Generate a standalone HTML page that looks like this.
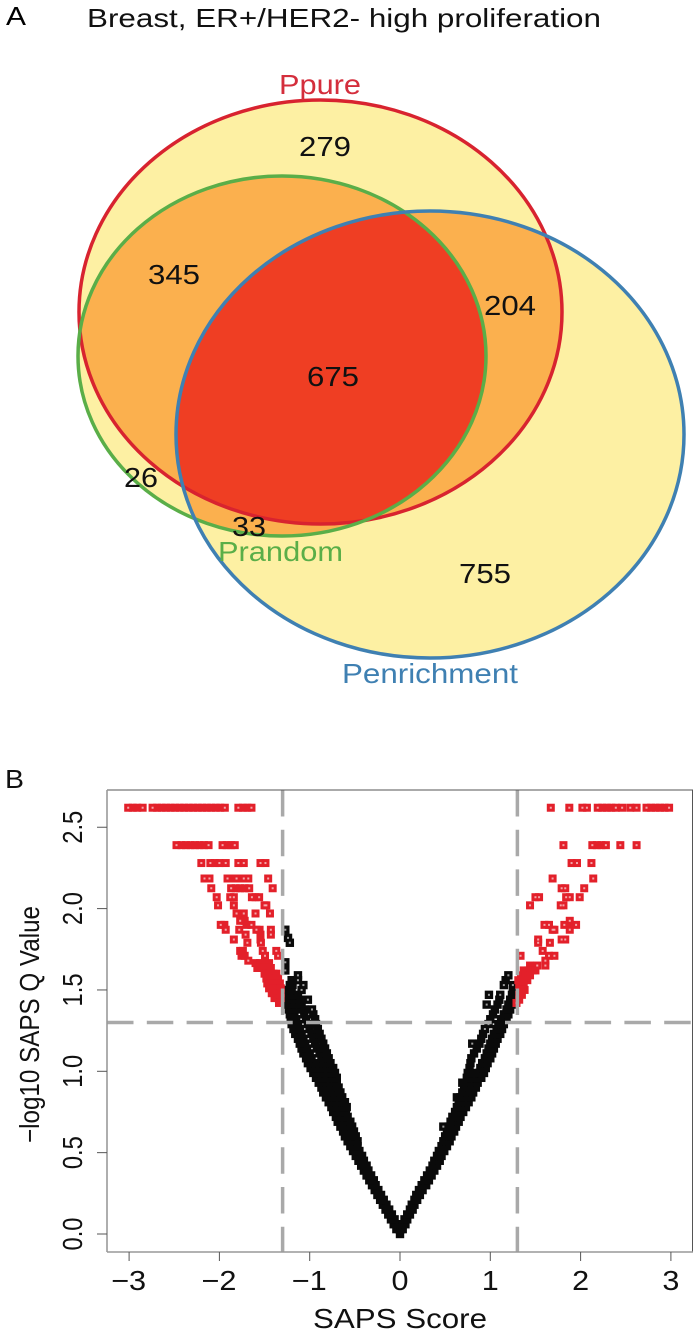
<!DOCTYPE html>
<html lang="en">
<head>
<meta charset="utf-8">
<title>Breast, ER+/HER2- high proliferation</title>
<style>
html,body{margin:0;padding:0;background:#fff;}
svg{display:block;}
text{font-family:"Liberation Sans",sans-serif;}
</style>
</head>
<body>
<svg id="figure" width="699" height="1335" viewBox="0 0 699 1335" xmlns="http://www.w3.org/2000/svg">
  <defs>
    <clipPath id="clip-pure"><ellipse cx="320.5" cy="312" rx="241.5" ry="212"/></clipPath>
    <clipPath id="clip-random"><ellipse cx="282" cy="356" rx="204" ry="180"/></clipPath>
    <clipPath id="clip-enrich"><ellipse cx="430" cy="434.5" rx="254" ry="223.5"/></clipPath>
  </defs>
  <rect width="699" height="1335" fill="#fff"/>

  <text x="6" y="25" font-size="25.5" textLength="20" lengthAdjust="spacingAndGlyphs">A</text>
  <text x="87" y="27" font-size="26" fill="#111" textLength="514" lengthAdjust="spacingAndGlyphs">Breast, ER+/HER2- high proliferation</text>

  <g>
    <ellipse cx="320.5" cy="312" rx="241.5" ry="212" fill="#fdf0a3"/>
    <ellipse cx="282" cy="356" rx="204" ry="180" fill="#fdf0a3"/>
    <ellipse cx="430" cy="434.5" rx="254" ry="223.5" fill="#fdf0a3"/>
    <g clip-path="url(#clip-pure)"><ellipse cx="282" cy="356" rx="204" ry="180" fill="#fbb04e"/></g>
    <g clip-path="url(#clip-pure)"><ellipse cx="430" cy="434.5" rx="254" ry="223.5" fill="#fbb04e"/></g>
    <g clip-path="url(#clip-random)"><ellipse cx="430" cy="434.5" rx="254" ry="223.5" fill="#fbb04e"/></g>
    <g clip-path="url(#clip-pure)"><g clip-path="url(#clip-random)"><ellipse cx="430" cy="434.5" rx="254" ry="223.5" fill="#ef3e23"/></g></g>
    <ellipse cx="320.5" cy="312" rx="241.5" ry="212" fill="none" stroke="#d8232f" stroke-width="3.5"/>
    <ellipse cx="282" cy="356" rx="204" ry="180" fill="none" stroke="#5aae48" stroke-width="3.5"/>
    <ellipse cx="430" cy="434.5" rx="254" ry="223.5" fill="none" stroke="#3f80b2" stroke-width="3.5"/>

    <text x="279" y="94" font-size="27.5" fill="#d42e3c" textLength="82" lengthAdjust="spacingAndGlyphs">Ppure</text>
    <text x="218" y="561" font-size="27.5" fill="#5aae48" textLength="125" lengthAdjust="spacingAndGlyphs">Prandom</text>
    <text x="342" y="683" font-size="27.5" fill="#3f80b2" textLength="176" lengthAdjust="spacingAndGlyphs">Penrichment</text>

    <text x="299" y="156" font-size="28" fill="#111" textLength="52" lengthAdjust="spacingAndGlyphs">279</text>
    <text x="148" y="284" font-size="28" fill="#111" textLength="52" lengthAdjust="spacingAndGlyphs">345</text>
    <text x="484" y="315" font-size="28" fill="#111" textLength="52" lengthAdjust="spacingAndGlyphs">204</text>
    <text x="307" y="386" font-size="28" fill="#111" textLength="52" lengthAdjust="spacingAndGlyphs">675</text>
    <text x="124" y="487" font-size="28" fill="#111" textLength="34" lengthAdjust="spacingAndGlyphs">26</text>
    <text x="232" y="536" font-size="28" fill="#111" textLength="34" lengthAdjust="spacingAndGlyphs">33</text>
    <text x="459" y="583" font-size="28" fill="#111" textLength="52" lengthAdjust="spacingAndGlyphs">755</text>
  </g>

  <text x="5" y="788" font-size="25.5" fill="#111" textLength="19" lengthAdjust="spacingAndGlyphs">B</text>

  <g id="volcano">
    <g id="black-points"></g>
    <g id="red-points"></g>
    <g id="cut-lines"></g>
    <g id="frame">
      <line x1="107" y1="790" x2="693" y2="790" stroke="#555" stroke-width="1"/>
      <line x1="692.5" y1="790" x2="692.5" y2="1252" stroke="#555" stroke-width="1"/>
      <line x1="107" y1="790" x2="107" y2="1252" stroke="#999" stroke-width="1.6"/>
      <line x1="107" y1="1252" x2="693" y2="1252" stroke="#999" stroke-width="1.6"/>
    </g>
    <g id="axes"></g>
    <text x="313" y="1328" font-size="27.5" fill="#111" textLength="174" lengthAdjust="spacingAndGlyphs">SAPS Score</text>
    <text transform="translate(39,1143) rotate(-90)" x="0" y="0" font-size="27.5" fill="#111" textLength="237" lengthAdjust="spacingAndGlyphs">&#8722;log10 SAPS Q Value</text>
  </g>
</svg>
<script>
var xTickValues = [-3, -2, -1, 0, 1, 2, 3];
var xTickLabels = ["\u22123", "\u22122", "\u22121", "0", "1", "2", "3"];
var yTickValues = [0, 0.5, 1, 1.5, 2, 2.5];
var yTickLabels = ["0.0", "0.5", "1.0", "1.5", "2.0", "2.5"];
var scoreCutoffs = [-1.3, 1.3];
var qCutoff = 1.3;

var blackRowY = [0,0.03,0.06,0.09,0.12,0.15,0.18,0.21,0.24,0.27,0.30,0.33,0.36,0.39,0.42,0.45,0.48,0.51,0.54,0.57,0.60,0.63,0.66,0.69,0.72,0.75,0.78,0.81,0.84,0.87,0.90,0.93,0.96,0.99,1.02,1.05,1.08,1.11,1.14,1.17,1.20,1.23,1.26,1.29,1.32,1.35,1.38,1.41,1.44,1.47,1.50,1.53,1.56,1.59,1.62,1.67,1.79,1.82,1.87];
var blackRowX = [
[0],
[-0.04,-0.01,0.01,0.03],
[-0.07,-0.03,0.03,0.06],
[-0.10,-0.06,0.05,0.08],
[-0.13,-0.09,0.08,0.11],
[-0.16,-0.12,0.11,0.14],
[-0.19,-0.15,0.13,0.16],
[-0.22,-0.18,0.16,0.19],
[-0.25,-0.21,0.18,0.22],
[-0.28,-0.24,0.21,0.25],
[-0.31,-0.27,0.24,0.29],
[-0.34,-0.29,0.27,0.32],
[-0.37,-0.32,0.30,0.35],
[-0.40,-0.35,0.33,0.38],
[-0.43,-0.37,0.36,0.41],
[-0.46,-0.40,0.38,0.44],
[-0.49,-0.42,0.41,0.46],
[-0.52,-0.45,0.43,0.49],
[-0.55,-0.50,-0.47,0.46,0.52],
[-0.58,-0.52,-0.47,0.48,0.55],
[-0.61,-0.55,-0.49,0.50,0.57],
[-0.63,-0.57,-0.51,0.52,0.60],
[-0.66,-0.60,-0.53,0.48,0.54,0.62],
[-0.69,-0.62,-0.55,0.56,0.65],
[-0.71,-0.65,-0.58,0.58,0.67],
[-0.74,-0.67,-0.60,0.61,0.70],
[-0.76,-0.70,-0.63,-0.59,0.63,0.68,0.73],
[-0.79,-0.73,-0.67,-0.61,0.65,0.71,0.76],
[-0.82,-0.76,-0.70,-0.64,0.63,0.67,0.73,0.79],
[-0.85,-0.79,-0.72,-0.66,0.69,0.75,0.81],
[-0.87,-0.81,-0.75,-0.68,0.71,0.77,0.84],
[-0.90,-0.84,-0.77,-0.70,0.69,0.73,0.79,0.86],
[-0.93,-0.87,-0.82,-0.74,-0.70,0.74,0.80,0.85,0.90],
[-0.96,-0.90,-0.82,-0.76,-0.72,0.75,0.82,0.88,0.93],
[-0.99,-0.93,-0.89,-0.81,-0.74,0.77,0.89,0.95],
[-1.02,-0.96,-0.92,-0.84,-0.77,0.78,0.91,0.97],
[-1.04,-0.98,-0.87,-0.79,0.79,0.94,1.00],
[-1.07,-1.00,-0.89,-0.81,0.82,0.96,1.02],
[-1.09,-1.03,-0.92,-0.83,0.85,0.98,1.04],
[-1.11,-1.05,-0.94,-0.85,0.80,0.88,1.00,1.06],
[-1.13,-1.07,-0.96,-0.87,0.90,1.02,1.08],
[-1.16,-1.09,-0.98,-0.89,0.92,1.04,1.11],
[-1.18,-1.11,-1.00,-0.91,0.94,1.07,1.13],
[-1.20,-1.13,-1.02,-0.93,0.98,1.09,1.15],
[-1.21,-1.15,-1.04,-0.94,1.00,1.12,1.18],
[-1.22,-1.17,-1.06,-0.96,1.03,1.15,1.20],
[-1.23,-1.19,-1.11,-1.06,-0.975,1.05,1.18,1.22],
[-1.24,-1.20,-1.15,-1.09,0.96,1.08,1.20,1.24],
[-1.24,-1.17,-1.11,-1.02,1.10,1.22],
[-1.24,-1.19,-1.13,0.985,1.11,1.24],
[-1.24,-1.20,-1.09,1.25],
[-1.22,-1.19,-1.07,1.15,1.25],
[-1.20,-1.13,1.17],
[-1.13,1.20],
[-1.27],
[-1.27],
[-1.22],
[-1.24],
[-1.27]
];

var redRowY = [2.62,2.39,2.28,2.185,2.125,2.07,2.02,1.97,1.925,1.90,1.87,1.84,1.81,1.79,1.74,1.71,1.68,1.665,1.65,1.635,1.62,1.60,1.59,1.57,1.56,1.54,1.53,1.51,1.50,1.48,1.47,1.45,1.44,1.42];
var redRowX = [
[-3.01,-2.96,-2.91,-2.85,-2.74,-2.69,-2.64,-2.59,-2.54,-2.49,-2.44,-2.39,-2.34,-2.29,-2.24,-2.19,-2.14,-2.09,-2.04,-1.99,-1.94,-1.79,-1.74,-1.69,-1.645,1.67,1.875,2.02,2.07,2.19,2.24,2.29,2.34,2.39,2.46,2.55,2.62,2.73,2.78,2.83,2.88,2.93,2.98],
[-2.475,-2.42,-2.37,-2.32,-2.27,-2.22,-2.17,-2.12,-1.965,-1.92,-1.87,-1.83,1.81,2.13,2.18,2.23,2.28,2.44,2.62],
[-2.20,-2.10,-2.05,-2.00,-1.93,-1.79,-1.73,-1.545,-1.49,1.90,1.96,2.12],
[-2.165,-2.11,-1.91,-1.86,-1.81,-1.73,-1.68,-1.46,1.69,2.14],
[-2.09,-1.87,-1.82,-1.77,-1.72,-1.67,-1.41,1.79,1.83,2.04],
[-2.03,-1.88,-1.84,-1.64,-1.60,-1.56,1.50,1.54,1.84,1.88,1.99],
[-2.015,-1.84,-1.50,-1.48,1.44,1.78,1.81],
[-1.81,-1.77,-1.73,-1.60,-1.44],
[-1.77,-1.72,1.88],
[-1.985,-1.945,-1.70,-1.645,1.60,1.65,1.82,1.88,1.95],
[-1.93,-1.78,-1.59,-1.555,-1.43,1.69,1.71,1.88],
[-1.71,-1.545,-1.43],
[-1.84,-1.545,1.53,1.79,1.83],
[-1.69,-1.54,1.53,1.66],
[-1.77,-1.74,-1.52,-1.37,1.58],
[-1.755,-1.72,-1.495,-1.35,1.335,1.65,1.71],
[-1.68,1.61],
[-1.60,-1.55,-1.50,-1.45],
[1.44,1.52,1.61],
[-1.58,-1.53,-1.48,-1.43],
[1.37,1.42,1.47,1.50],
[-1.50,-1.45,-1.40,-1.37],
[1.34,1.39,1.44],
[-1.48,-1.43,-1.38,-1.35],
[1.31,1.36,1.41],
[-1.47,-1.42,-1.37,-1.33],
[1.32,1.37],
[-1.45,-1.40,-1.35,-1.32],
[1.33,1.38],
[-1.42,-1.37,-1.32],
[1.32,1.35],
[-1.39,-1.35,-1.32],
[1.32],
[-1.34,1.29]
];

var svgNS = "http://www.w3.org/2000/svg";
function xScale(v) { return 400 + 90.3 * v; }
function yScale(v) { return 1234 - 162.7 * v; }

function drawRows(rowY, rowX, color, size, parent, pointName, dotName) {
  var pts = [];
  for (var r = 0; r < rowY.length; r++) {
    for (var c = 0; c < rowX[r].length; c++) {
      pts.push([xScale(rowX[r][c]), yScale(rowY[r])]);
    }
  }
  pts.forEach(function (p) {
    var box = document.createElementNS(svgNS, "rect");
    box.setAttribute("x", p[0] - size / 2);
    box.setAttribute("y", p[1] - size / 2);
    box.setAttribute("width", size);
    box.setAttribute("height", size);
    box.setAttribute("fill", color);
    
    
    parent.appendChild(box);
  });
  pts.forEach(function (p) {
    var near = 0;
    pts.forEach(function (q) {
      var dx = p[0] - q[0];
      var dy = p[1] - q[1];
      if (dx * dx + dy * dy < 36) { near++; }
    });
    if (near > 2) { return; }
    var dot = document.createElementNS(svgNS, "rect");
    dot.setAttribute("x", p[0] - 1);
    dot.setAttribute("y", p[1] - 1);
    dot.setAttribute("width", 2);
    dot.setAttribute("height", 2);
    dot.setAttribute("fill", "rgba(255,255,255,0.6)");
    
    
    parent.appendChild(dot);
  });
}
drawRows(blackRowY, blackRowX, "#0a0a0a", 8.4, document.getElementById("black-points"), "black-point", "black-point-center");
drawRows(redRowY, redRowX, "#e3202a", 8, document.getElementById("red-points"), "red-point", "red-point-center");

var cutGroup = document.getElementById("cut-lines");
scoreCutoffs.forEach(function (cut) {
  var v = document.createElementNS(svgNS, "line");
  v.setAttribute("x1", xScale(cut));
  v.setAttribute("x2", xScale(cut));
  v.setAttribute("y1", 790);
  v.setAttribute("y2", 1252);
  v.setAttribute("stroke", "#a9a9a9");
  v.setAttribute("stroke-width", 3.5);
  v.setAttribute("stroke-dasharray", "26.5 13.2");
  
  
  cutGroup.appendChild(v);
});
var h = document.createElementNS(svgNS, "line");
h.setAttribute("x1", 107);
h.setAttribute("x2", 692);
h.setAttribute("y1", yScale(qCutoff));
h.setAttribute("y2", yScale(qCutoff));
h.setAttribute("stroke", "#a9a9a9");
h.setAttribute("stroke-width", 3.5);
h.setAttribute("stroke-dasharray", "26.5 13.3");


cutGroup.appendChild(h);

var axes = document.getElementById("axes");
xTickValues.forEach(function (val, i) {
  var px = xScale(val);
  var t = document.createElementNS(svgNS, "line");
  t.setAttribute("x1", px);
  t.setAttribute("x2", px);
  t.setAttribute("y1", 1252);
  t.setAttribute("y2", 1261);
  t.setAttribute("stroke", "#555");
  t.setAttribute("stroke-width", 1);
  
  
  axes.appendChild(t);
  var lab = document.createElementNS(svgNS, "text");
  var negative = val < 0;
  lab.setAttribute("x", negative ? px - 18 : px - 8.5);
  lab.setAttribute("y", 1290);
  lab.setAttribute("font-size", 27.5);
  lab.setAttribute("fill", "#111");
  lab.setAttribute("textLength", negative ? 35 : 17);
  lab.setAttribute("lengthAdjust", "spacingAndGlyphs");
  
  
  lab.textContent = xTickLabels[i];
  axes.appendChild(lab);
});
yTickValues.forEach(function (val, i) {
  var py = yScale(val);
  var t = document.createElementNS(svgNS, "line");
  t.setAttribute("x1", 97);
  t.setAttribute("x2", 107);
  t.setAttribute("y1", py);
  t.setAttribute("y2", py);
  t.setAttribute("stroke", "#555");
  t.setAttribute("stroke-width", 1);
  
  
  axes.appendChild(t);
  var lab = document.createElementNS(svgNS, "text");
  lab.setAttribute("transform", "translate(82," + (py + 16.5) + ") rotate(-90)");
  lab.setAttribute("font-size", 27.5);
  lab.setAttribute("fill", "#111");
  lab.setAttribute("textLength", 33);
  lab.setAttribute("lengthAdjust", "spacingAndGlyphs");
  
  
  lab.textContent = yTickLabels[i];
  axes.appendChild(lab);
});
</script>
</body>
</html>
